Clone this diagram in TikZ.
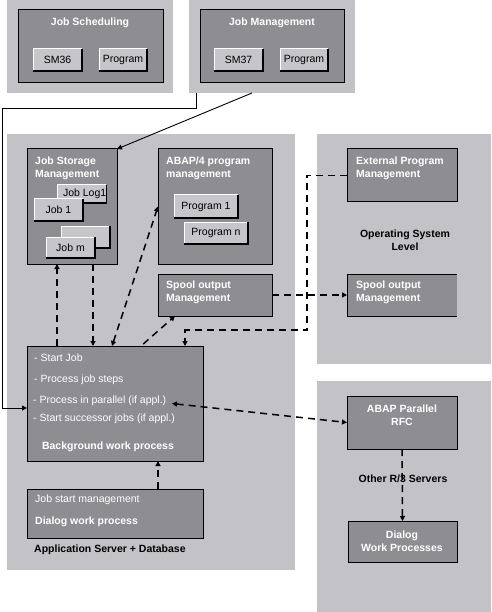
\documentclass[tikz,border=0pt]{standalone}
\usepackage{fontspec}
\setmainfont{Liberation Sans}
\usetikzlibrary{arrows.meta}
\definecolor{panelgray}{HTML}{C3C2C6}
\definecolor{darkgray}{HTML}{8E8D91}
\definecolor{btngray}{HTML}{C6C5C9}
\newcommand\mkbox[6]{\node[#6, anchor=north west, minimum width={#4-#2}, minimum height={#5-#3}, inner sep=0pt, outer sep=0pt] (#1) at (#2,#3) {};}
\newcommand\mkbtn[6]{%
  \node[btnbox, anchor=north west, minimum width=#4, minimum height=#5] (#1) at (#2,#3) {#6};
  \draw[white, line width=1pt] (#1.south west) -- (#1.north west) -- (#1.north east);
  \draw[black, line width=1.3pt] (#1.north east) -- (#1.south east) -- (#1.south west);}
\begin{document}
\begin{tikzpicture}[x=1pt, y=-1pt,
  panelbox/.style={fill=panelgray, draw=none},
  darkbox/.style={fill=darkgray, draw=black, line width=1pt},
  darkfill/.style={fill=darkgray, draw=none},
  btnbox/.style={fill=btngray, draw=none, inner sep=0pt, outer sep=0pt, text=black, font=\fontsize{10.5}{13}\selectfont},
  wtitle/.style={text=white, inner sep=0pt, anchor=north west, align=left, font=\fontsize{10.5}{13}\selectfont\bfseries},
  wplain/.style={text=white, inner sep=0pt, anchor=west, font=\fontsize{10.5}{13}\selectfont},
  ktitle/.style={text=black, inner sep=0pt, align=center, font=\fontsize{10.5}{13}\selectfont\bfseries},
  conn/.style={black, line width=0.9pt},
  dconn/.style={black, line width=1.5pt, dash pattern=on 7pt off 5pt},
  tip/.tip={Triangle[length=5pt,width=5pt]}]
\useasboundingbox (0,0) rectangle (491,612);
\fill[white] (0,0) rectangle (491,612);
% panels
\mkbox{P1}{7}{0}{173}{93}{panelbox}
\mkbox{P2}{189}{0}{355}{93}{panelbox}
\mkbox{P3}{7}{134}{295}{570}{panelbox}
\mkbox{P4}{317}{134}{491}{364}{panelbox}
\mkbox{P5}{317}{381}{491}{612}{panelbox}
% dark boxes
\mkbox{JS}{18}{10}{163}{83}{darkbox}
\mkbox{JM}{200}{10}{344}{83}{darkbox}
\mkbox{JSM}{27}{149}{117}{264}{darkbox}
\mkbox{ABAP}{158}{149}{272}{264}{darkbox}
\mkbox{SpoolL}{158}{274}{272}{316}{darkbox}
\mkbox{ExtPM}{347}{149}{457}{202}{darkbox}
\mkbox{SpoolR}{347}{274}{457}{316}{darkfill}
\draw[black, line width=1pt] (SpoolR.north east) -- (SpoolR.north west) -- (SpoolR.south west) -- (SpoolR.south east);
\mkbox{BG}{27}{346}{203}{461}{darkbox}
\mkbox{DLG}{27}{489}{203}{538}{darkbox}
\mkbox{RFC}{347}{396}{457}{449}{darkbox}
\mkbox{DWP}{348}{521}{457}{562}{darkbox}
% titles
\node[wtitle, anchor=center] (tJS) at (90,23) {Job Scheduling};
\node[wtitle, anchor=center] (tJM) at (272,23) {Job Management};
\node[wtitle] (tJSM) at (35,157) {Job Storage\\Management};
\node[wtitle] (tABAP) at (166,157) {ABAP/4 program\\management};
\node[wtitle] (tSpoolL) at (166,281) {Spool output\\Management};
\node[wtitle] (tExt) at (356,157) {External Program\\Management};
\node[wtitle] (tSpoolR) at (356,281) {Spool output\\Management};
\node[ktitle] (tOS) at (405,240) {Operating System\\Level};
\node[wtitle, anchor=center, align=center] (tRFC) at (402,415) {ABAP Parallel\\RFC};
\node[wtitle, anchor=center, align=center] (tDWP) at (402,541) {Dialog\\Work Processes};
% buttons
\mkbtn{SM36}{33}{49}{49}{22}{SM36}
\mkbtn{Prog1}{99}{49}{48}{22}{Program}
\mkbtn{SM37}{214}{49}{49}{22}{SM37}
\mkbtn{Prog2}{280}{49}{48}{22}{Program}
\mkbtn{JobLog}{57}{185}{48}{18}{\hspace*{6pt}Job Log1}
\mkbtn{Job1}{34}{199}{49}{22}{Job 1}
\mkbtn{JobBlank}{61}{226}{49}{22}{}
\mkbtn{Jobm}{46}{237}{49}{21}{Job m}
\mkbtn{ProgOne}{174}{195}{64}{23}{Program 1}
\mkbtn{ProgN}{184}{222}{64}{22}{Program n}
% background work process texts
\node[wplain] (b1) at (34,358) {- Start Job};
\node[wplain] (b2) at (34,380) {- Process job steps};
\node[wplain] (b3) at (33,401) {- Process in parallel (if appl.)};
\node[wplain] (b4) at (33,419) {- Start successor jobs (if appl.)};
\node[wtitle, anchor=center] (b5) at (108,447) {Background work process};
\node[wplain] (d1) at (35,500) {Job start management};
\node[wtitle, anchor=west] (d2) at (35,522) {Dialog work process};
\node[ktitle, anchor=west] (tApp) at (34,550) {Application Server + Database};
% solid connectors
\coordinate (lcorner) at (2,108);
\draw[conn, -tip] ([xshift=7pt]P2.south west) |- (lcorner) |- ([yshift=-4.5pt]BG.west);
\draw[conn, -tip] ([xshift=63pt]P2.south west) -- (JSM.north east);
% dashed connectors
\draw[dconn, -tip] ([xshift=30pt]BG.north west) -- ([xshift=30pt]JSM.south west);
\draw[dconn, -tip] ([xshift=66pt]JSM.south west) -- ([xshift=66pt]BG.north west);
\draw[dconn, tip-tip] ([xshift=85pt]BG.north west) -- (ABAP.west);
\draw[dconn, -tip, shorten <=3pt] ([xshift=114pt]BG.north west) -- ([xshift=17pt]SpoolL.south west);
\coordinate (osbend) at (307,330);
\draw[dconn, -tip] (ExtPM.west) -| (osbend) -| ([xshift=158pt]BG.north west);
\draw[dconn, -tip] (SpoolL.east) -- (SpoolR.west);
\draw[dconn, tip-tip] ([xshift=-31pt]BG.east) -- (RFC.west);
\draw[dconn, -tip] (RFC.south) -- (DWP.north);
\draw[dconn, -tip] ([xshift=131pt]DLG.north west) -- ([xshift=131pt]BG.south west);
\node[ktitle] (tOther) at (403,479) {Other R/3 Servers};
\end{tikzpicture}
\end{document}
